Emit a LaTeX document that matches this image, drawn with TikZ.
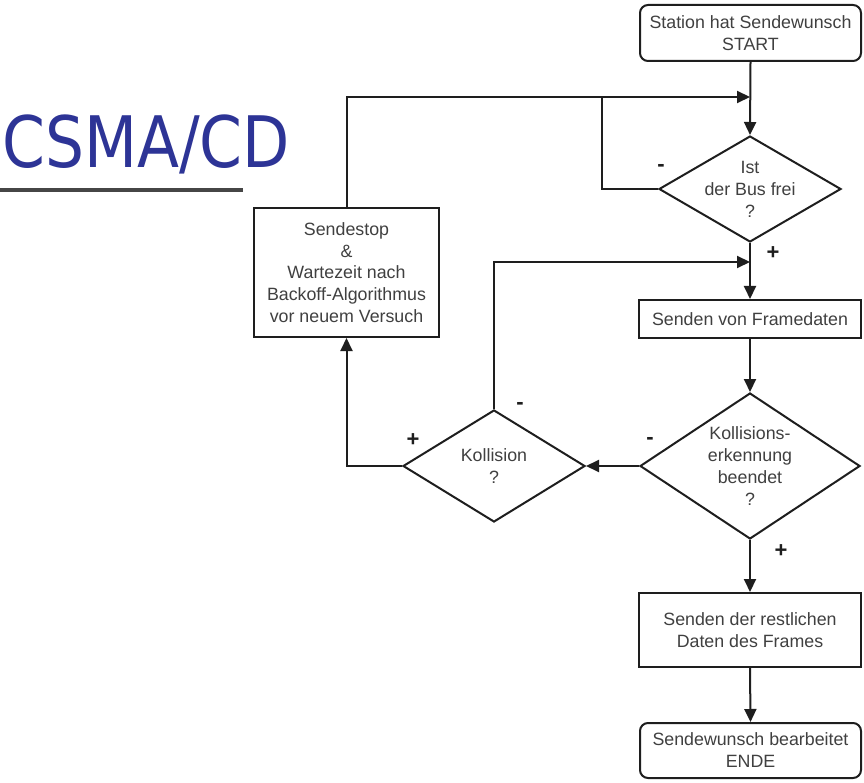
\documentclass[tikz,border=0pt]{standalone}
\usepackage{fontspec}
\setmainfont{Liberation Sans}
\newfontfamily\titlefont{DejaVu Sans}
\usetikzlibrary{shapes.geometric,arrows.meta}
\definecolor{titleblue}{RGB}{45,52,150}
\definecolor{ink}{RGB}{30,30,30}
\begin{document}
\begin{tikzpicture}[x=1pt,y=-1pt,
  conn/.style={line width=2pt,draw=ink},
  arr/.style={conn,-{Triangle[length=13pt,width=12pt]}},
  txt/.style={align=center,font=\fontsize{17.8}{22}\selectfont,text=ink!85!white,inner sep=0pt},
  boxnode/.style={draw=ink,line width=2pt,rectangle,inner sep=0pt},
  roundbox/.style={boxnode,rounded corners=8pt},
  decision/.style={draw=ink,line width=2pt,diamond,inner sep=0pt},
  sign/.style={font=\fontsize{22}{22}\selectfont\bfseries,text=ink,inner sep=0pt}]
\useasboundingbox[fill=white] (0,0) rectangle (864,783);

% title
\node[anchor=base west,inner sep=0pt,text=titleblue] (title) at (2,168)
  {\scalebox{0.865}[1]{\titlefont\fontsize{71}{71}\selectfont CSMA/CD}};
\draw[line width=3.5pt,draw=gray!55!black] (0,190) coordinate (ul1) -- (243,190) coordinate (ul2);

% nodes
\node[roundbox,minimum width=221pt,minimum height=56pt] (start) at (750.5,33) {};
\node[txt] at (start) {Station hat Sendewunsch\\START};

\node[decision,minimum width=182pt,minimum height=106pt] (bus) at (750,189) {};
\node[txt] at (bus) {Ist\\der Bus frei\\?};

\node[boxnode,minimum width=222pt,minimum height=38pt] (send) at (750,319) {};
\node[txt] at (send) {Senden von Framedaten};

\node[decision,minimum width=220pt,minimum height=146pt] (ke) at (750,466) {};
\node[txt] at (ke) {Kollisions-\\erkennung\\beendet\\?};

\node[decision,minimum width=182pt,minimum height=112pt] (kol) at (494,466) {};
\node[txt] at (kol) {Kollision\\?};

\node[boxnode,minimum width=185pt,minimum height=129pt] (stop) at (346.5,272.5) {};
\node[txt,font=\fontsize{17.8}{21.7}\selectfont] at (stop) {Sendestop\\\&\\Wartezeit nach\\Backoff-Algorithmus\\vor neuem Versuch};

\node[boxnode,minimum width=222pt,minimum height=74pt] (rest) at (750,630) {};
\node[txt] at (rest) {Senden der restlichen\\Daten des Frames};

\node[roundbox,minimum width=221pt,minimum height=55pt] (ende) at (750.5,750.5) {};
\node[txt] at (ende) {Sendewunsch bearbeitet\\ENDE};

% junctions
\coordinate (j1) at (750,97);
\coordinate (j2) at (602,97);
\coordinate (j3) at (750,262);

% connectors
\draw[arr] (start.south) -- (bus.north);
\draw[arr] (stop.north) |- (j1);
\draw[conn] (bus.west) -| (j2);
\draw[arr] (bus.south) -- (send.north);
\draw[arr] (kol.north) |- (j3);
\draw[arr] (send.south) -- (ke.north);
\draw[arr] (ke.west) -- (kol.east);
\draw[arr] (kol.west) -| (stop.south);
\draw[arr] (ke.south) -- (rest.north);
\draw[arr] (rest.south) -- (ende.north);

% signs
\node[sign] (s1) at (661,168) {-};
\node[sign] (s2) at (773,253) {+};
\node[sign] (s3) at (650,441) {-};
\node[sign] (s4) at (520,406) {-};
\node[sign] (s5) at (413,440) {+};
\node[sign] (s6) at (781,551) {+};
\end{tikzpicture}
\end{document}
